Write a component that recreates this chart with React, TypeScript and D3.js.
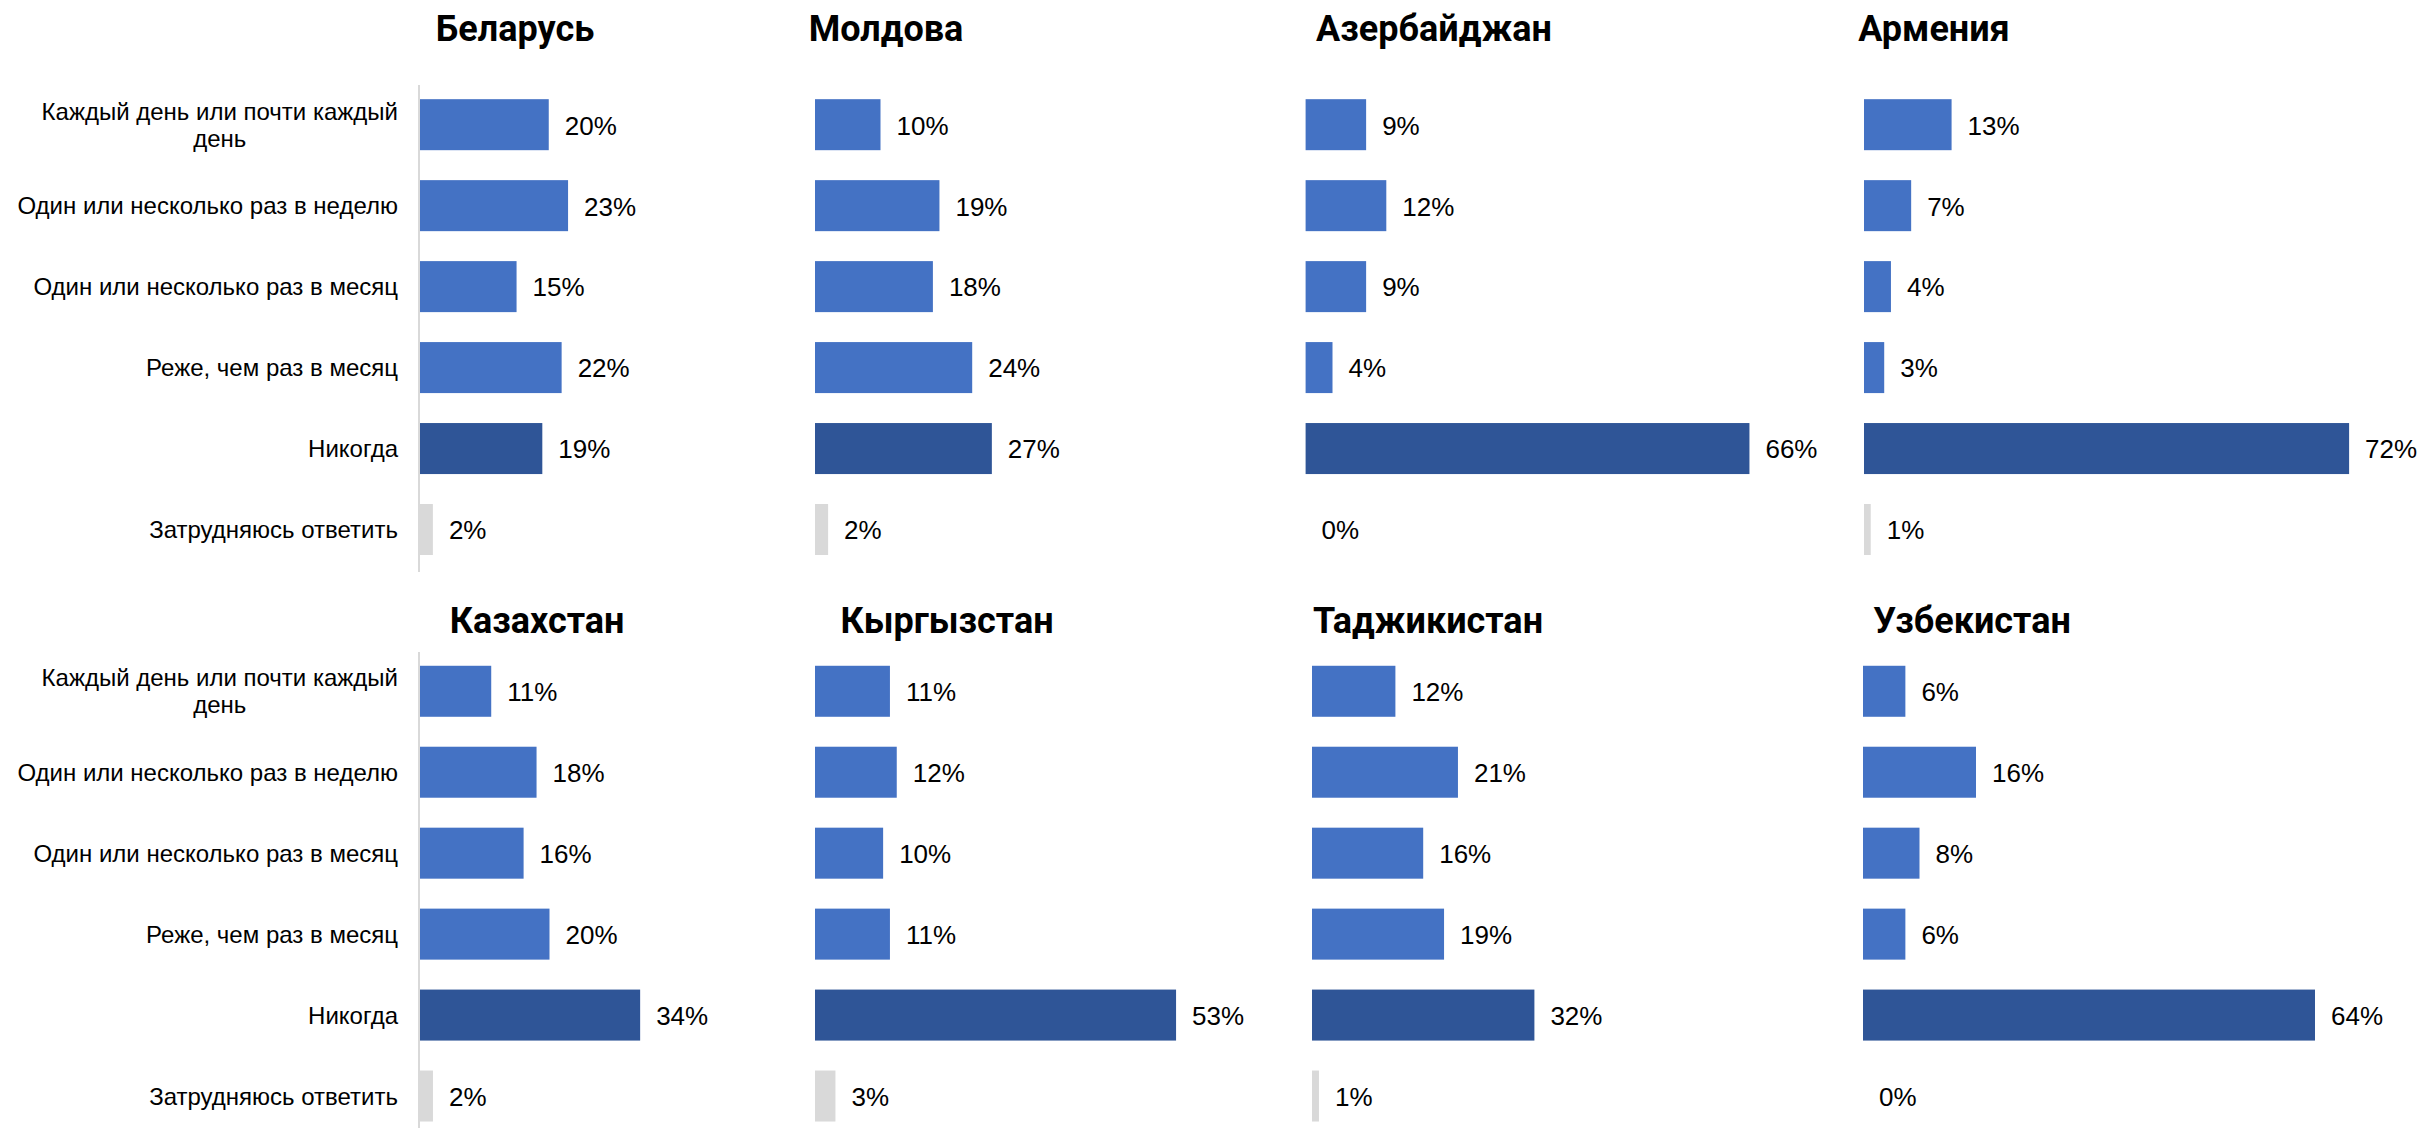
import React, { useEffect, useRef } from "react";
import * as d3 from "d3";

// ---- Data ----
const categories = [
  "Каждый день или почти каждый день",
  "Один или несколько раз в неделю",
  "Один или несколько раз в месяц",
  "Реже, чем раз в месяц",
  "Никогда",
  "Затрудняюсь ответить",
];
const categoryLines = [
  ["Каждый день или почти каждый", "день"],
  ["Один или несколько раз в неделю"],
  ["Один или несколько раз в месяц"],
  ["Реже, чем раз в месяц"],
  ["Никогда"],
  ["Затрудняюсь ответить"],
];
const countries = [
  "Беларусь",
  "Молдова",
  "Азербайджан",
  "Армения",
  "Казахстан",
  "Кыргызстан",
  "Таджикистан",
  "Узбекистан",
];
const belarus = [20, 23, 15, 22, 19, 2];
const moldova = [10, 19, 18, 24, 27, 2];
const azerbaijan = [9, 12, 9, 4, 66, 0];
const armenia = [13, 7, 4, 3, 72, 1];
const kazakhstan = [11, 18, 16, 20, 34, 2];
const kyrgyzstan = [11, 12, 10, 11, 53, 3];
const tajikistan = [12, 21, 16, 19, 32, 1];
const uzbekistan = [6, 16, 8, 6, 64, 0];
const seriesValues = [belarus, moldova, azerbaijan, armenia, kazakhstan, kyrgyzstan, tajikistan, uzbekistan];
const axisMax = 80;

// ---- Layout / style ----
const W = 2423;
const H = 1128;
const rows = [
  { bandTop: 84.2, bandBottom: 570, titleY: 41, axisTop: 85, axisBottom: 572 },
  { bandTop: 650.8, bandBottom: 1136.5, titleY: 633, axisTop: 652, axisBottom: 1128 },
];
const panels = [
  { row: 0, x0: 420, width: 515, titleCx: 515, showAxis: true },
  { row: 0, x0: 815, width: 524, titleCx: 886, showAxis: false },
  { row: 0, x0: 1305.6, width: 538, titleCx: 1434, showAxis: false },
  { row: 0, x0: 1864, width: 539, titleCx: 1934, showAxis: false },
  { row: 1, x0: 420, width: 518, titleCx: 537, showAxis: true },
  { row: 1, x0: 815, width: 545, titleCx: 947, showAxis: false },
  { row: 1, x0: 1312, width: 556, titleCx: 1428, showAxis: false },
  { row: 1, x0: 1863, width: 565, titleCx: 1972, showAxis: false },
];
const COLOR_LIGHT = "#4472C4";
const COLOR_DARK = "#2F5597";
const COLOR_GRAY = "#D9D9D9";
const barColors = [COLOR_LIGHT, COLOR_LIGHT, COLOR_LIGHT, COLOR_LIGHT, COLOR_DARK, COLOR_GRAY];
const LABEL_FONT = "'Liberation Sans', Arial, sans-serif";
const TITLE_FONT = "Roboto, 'Open Sans', sans-serif";
const CAT_FS = 24;
const VAL_FS = 26;
const TITLE_FS = 36;
const LABEL_RIGHT_GAP = 22;

export default function App() {
  const ref = useRef<SVGSVGElement | null>(null);

  useEffect(() => {
    const svg = d3.select(ref.current);
    svg.selectAll("*").remove();

    panels.forEach((p, pi) => {
      const r = rows[p.row];
      const values = seriesValues[pi];
      const y = d3
        .scaleBand<string>()
        .domain(categories)
        .range([r.bandTop, r.bandBottom])
        .paddingInner(0.37)
        .paddingOuter(0.185);
      const x = d3.scaleLinear().domain([0, axisMax]).range([p.x0, p.x0 + p.width]);
      const g = svg.append("g");

      // title
      g.append("text")
        .attr("x", p.titleCx)
        .attr("y", r.titleY)
        .attr("text-anchor", "middle")
        .attr("font-family", TITLE_FONT)
        .attr("font-weight", 700)
        .attr("font-size", TITLE_FS)
        .attr("fill", "#000")
        .text(countries[pi]);

      // bars
      g.selectAll("rect.bar")
        .data(values)
        .join("rect")
        .attr("class", "bar")
        .attr("x", x(0))
        .attr("y", (_d, i) => y(categories[i]) as number)
        .attr("width", (d) => Math.max(0, x(d) - x(0)))
        .attr("height", y.bandwidth())
        .attr("fill", (_d, i) => barColors[i]);

      // value labels
      g.selectAll("text.val")
        .data(values)
        .join("text")
        .attr("class", "val")
        .attr("x", (d) => x(d) + 16)
        .attr("y", (_d, i) => (y(categories[i]) as number) + y.bandwidth() / 2 + VAL_FS * 0.36 + 0.5)
        .attr("font-family", LABEL_FONT)
        .attr("font-size", VAL_FS)
        .attr("fill", "#000")
        .text((d) => `${d}%`);

      if (p.showAxis) {
        g.append("line")
          .attr("x1", x(0) - 1)
          .attr("x2", x(0) - 1)
          .attr("y1", r.axisTop)
          .attr("y2", r.axisBottom)
          .attr("stroke", COLOR_GRAY)
          .attr("stroke-width", 2);

        const right = x(0) - LABEL_RIGHT_GAP;
        categories.forEach((c, ci) => {
          const lines = categoryLines[ci];
          const cy = (y(c) as number) + y.bandwidth() / 2;
          const lh = 27;
          const t = g
            .append("text")
            .attr("font-family", LABEL_FONT)
            .attr("font-size", CAT_FS)
            .attr("fill", "#000");
          const spans = lines.map((ln, li) =>
            t
              .append("tspan")
              .attr("y", cy + (li - (lines.length - 1) / 2) * lh + CAT_FS * 0.358)
              .text(ln)
          );
          // measure widest line, center all lines within right-aligned block
          let maxW = 0;
          spans.forEach((s) => {
            const node = s.node() as SVGTextContentElement;
            maxW = Math.max(maxW, node.getComputedTextLength());
          });
          spans.forEach((s) => s.attr("x", right - maxW / 2));
          t.attr("text-anchor", "middle");
        });
      }
    });
  }, []);

  return (
    <svg
      ref={ref}
      width={W}
      height={H}
      style={{ position: "absolute", left: 0, top: 0, background: "#fff" }}
    />
  );
}
